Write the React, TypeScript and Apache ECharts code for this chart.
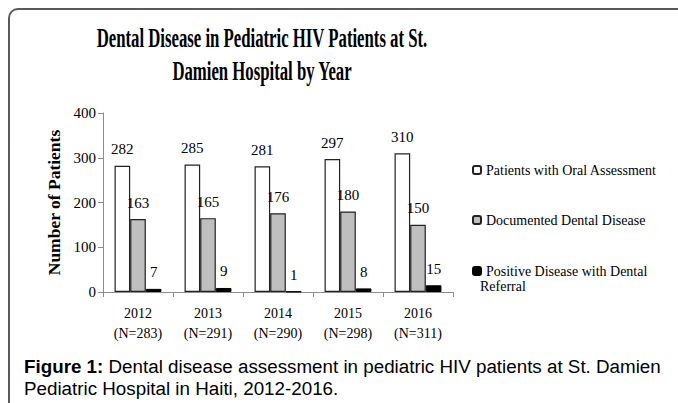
import React, { useEffect, useRef } from "react";
import * as echarts from "echarts";

const years = ["2012", "2013", "2014", "2015", "2016"];
const nLabels = ["(N=283)", "(N=291)", "(N=290)", "(N=298)", "(N=311)"];
const oralAssessment = [282, 285, 281, 297, 310];
const dentalDisease = [163, 165, 176, 180, 150];
const dentalReferral = [7, 9, 1, 8, 15];
const seriesNames = [
  "Patients with Oral Assessment",
  "Documented Dental Disease",
  "Positive Disease with Dental Referral",
];
const yMin = 0;
const yMax = 400;
const yInterval = 100;

const SERIF = "'Liberation Serif', 'Times New Roman', serif";
const SANS = "'Liberation Sans', Arial, sans-serif";

export default function App() {
  const ref = useRef<HTMLDivElement>(null);
  useEffect(() => {
    if (!ref.current) return;
    const chart = echarts.init(ref.current, null, { renderer: "svg" });
    const labelCfg = {
      show: true,
      position: "top",
      distance: 9,
      color: "#000",
      fontFamily: SERIF,
      fontSize: 15,
    };
    const legendBase = {
      orient: "vertical",
      left: 467,
      itemWidth: 8,
      itemHeight: 8,
      itemGap: 5,
      textStyle: { fontFamily: SERIF, fontSize: 14, color: "#000" },
      selectedMode: false,
    };
    chart.setOption({
      animation: false,
      backgroundColor: "#fff",
      textStyle: { fontFamily: SERIF },
      grid: { left: 103, right: 225, top: 113, bottom: 111, containLabel: false },
      legend: [
        { ...legendBase, top: 158, data: [seriesNames[0]] },
        { ...legendBase, top: 208, data: [seriesNames[1]] },
        {
          ...legendBase,
          top: 259,
          data: [seriesNames[2]],
          formatter: () => "Positive Disease with Dental",
        },
      ],
      xAxis: {
        type: "category",
        data: years,
        axisLine: { lineStyle: { color: "#8c8c8c", width: 1 } },
        axisTick: { show: true, length: 5, lineStyle: { color: "#8c8c8c" } },
        axisLabel: {
          color: "#000",
          fontFamily: SERIF,
          fontSize: 14,
          lineHeight: 20,
          margin: 11,
          formatter: (v: string, i: number) => v + "\n" + nLabels[i],
        },
      },
      yAxis: {
        type: "value",
        min: yMin,
        max: yMax,
        interval: yInterval,
        name: "Number of Patients",
        nameLocation: "middle",
        nameGap: 35,
        nameTextStyle: {
          fontFamily: SERIF,
          fontWeight: "bold",
          fontSize: 17.5,
          color: "#000",
        },
        axisLine: { show: true, lineStyle: { color: "#8c8c8c", width: 1 } },
        axisTick: { show: true, length: 5, lineStyle: { color: "#8c8c8c" } },
        splitLine: { show: false },
        axisLabel: { color: "#000", fontFamily: SERIF, fontSize: 15, margin: 7 },
      },
      series: [
        {
          name: seriesNames[0],
          type: "bar",
          data: oralAssessment,
          barGap: "0%",
          barCategoryGap: "33%",
          itemStyle: { color: "#ffffff", borderColor: "#222", borderWidth: 1.2 },
          label: labelCfg,
        },
        {
          name: seriesNames[1],
          type: "bar",
          data: dentalDisease,
          barGap: "0%",
          barCategoryGap: "33%",
          itemStyle: { color: "#bfbfbf", borderColor: "#222", borderWidth: 1.2 },
          label: labelCfg,
        },
        {
          name: seriesNames[2],
          type: "bar",
          data: dentalReferral,
          barGap: "0%",
          barCategoryGap: "33%",
          itemStyle: { color: "#000000", borderColor: "#000", borderWidth: 1 },
          label: labelCfg,
        },
      ],
      graphic: [
        {
          type: "rect",
          shape: { x: 9, y: 9, width: 720, height: 440, r: 9 },
          style: { fill: "none", stroke: "#5a5a5a", lineWidth: 2 },
          silent: true,
        },
        {
          type: "text",
          x: 262,
          y: 54,
          scaleX: 0.62,
          style: {
            text: "Dental Disease in Pediatric HIV Patients at St.\nDamien Hospital by Year",
            fontFamily: SERIF,
            fontWeight: "bold",
            fontSize: 27,
            lineHeight: 33,
            fill: "#000",
            align: "center",
            verticalAlign: "middle",
          },
        },
        {
          type: "text",
          x: 480,
          y: 286,
          style: {
            text: "Referral",
            fontFamily: SERIF,
            fontSize: 14,
            fill: "#000",
            align: "left",
            verticalAlign: "middle",
          },
        },
        {
          type: "text",
          x: 24,
          y: 377,
          style: {
            text:
              "{b|Figure 1:} Dental disease assessment in pediatric HIV patients at St. Damien\nPediatric Hospital in Haiti, 2012-2016.",
            fontFamily: SANS,
            fontSize: 18.8,
            lineHeight: 22,
            fill: "#000",
            align: "left",
            verticalAlign: "middle",
            rich: {
              b: { fontFamily: SANS, fontSize: 18.8, fontWeight: "bold", lineHeight: 22 },
            },
          },
        },
      ],
    });
    return () => chart.dispose();
  }, []);
  return (
    <div
      ref={ref}
      style={{ position: "fixed", left: 0, top: 0, width: 678, height: 403 }}
    />
  );
}
